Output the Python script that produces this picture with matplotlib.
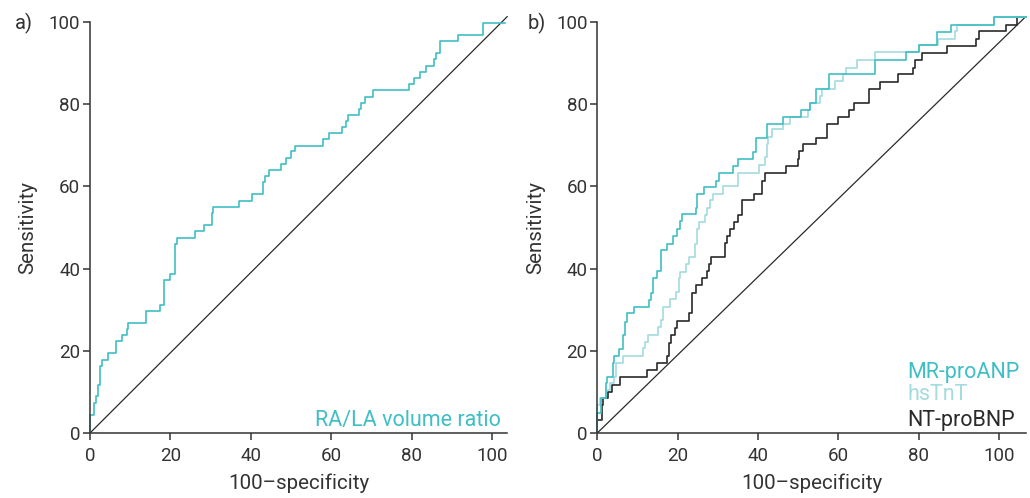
import matplotlib as mpl
mpl.use('Agg')
import matplotlib.pyplot as plt

# a) RA/LA volume ratio
ra_la_x = [0, 0, 1.0, 1.5, 2.1, 2.5, 3.0, 4.4, 6.5, 8.0, 9.2, 9.5, 14.0, 17.5, 18.3, 20.0, 21.2,
           21.7, 26.2, 28.3, 30.4, 30.7, 37.1, 40.2, 43.0, 43.5, 44.5, 47.5, 48.7, 50.0, 50.9,
           57.9, 59.5, 62.8, 63.7, 64.1, 66.9, 67.5, 68.5, 70.5, 79.3, 80.6, 82.2, 83.7, 85.7,
           86.0, 87.1, 91.5, 97.9, 103.2]
ra_la_y = [0, 4.5, 7.4, 9.0, 11.8, 16.3, 17.8, 19.4, 22.4, 23.8, 25.3, 26.8, 29.8, 31.1, 37.2,
           38.7, 46.1, 47.5, 49.1, 50.6, 53.6, 55.1, 56.5, 58.1, 61.0, 62.5, 64.0, 65.5, 67.0,
           68.5, 69.9, 71.5, 72.9, 74.5, 75.9, 77.4, 78.8, 80.4, 81.8, 83.4, 84.8, 86.3, 87.8,
           89.4, 90.9, 92.4, 95.3, 96.8, 99.8, 99.8]

# b) MR-proANP
anp_x = [0, 0, 0.91, 2.07, 2.49, 3.82, 4.23, 5.48, 6.47, 6.8, 7.3, 9.2, 12.9, 13.4, 13.9, 14.8,
         15.85, 17.4, 18.9, 19.9, 20.6, 21.0, 24.6, 24.9, 26.6, 29.5, 30.3, 33.7, 35.1, 38.8,
         39.5, 42.2, 46.1, 50.6, 52.9, 54.4, 57.6, 69.1, 76.8, 80.1, 84.5, 88.0, 98.8, 106.6]
anp_y = [0, 4.9, 8.5, 12.1, 13.7, 17.0, 18.8, 20.5, 23.8, 27.1, 29.1, 30.7, 32.3, 34.1, 37.6,
         39.4, 44.5, 46.1, 47.9, 49.6, 51.6, 53.2, 54.8, 58.2, 59.8, 61.4, 63.3, 64.9, 66.7,
         68.3, 71.8, 75.2, 77.0, 78.7, 80.4, 83.8, 87.3, 90.8, 92.6, 94.3, 97.5, 99.3, 101.1, 101.1]

# hsTnT
tnt_x = [0, 0, 0.66, 2.07, 3.15, 4.23, 4.65, 6.47, 11.45, 11.87, 12.7, 15.2, 15.8, 16.3, 18.1,
         19.6, 20.4, 20.7, 22.1, 22.7, 24.3, 24.9, 25.4, 26.8, 27.2, 28.05, 28.7, 31.4, 34.9,
         40.3, 41.7, 42.2, 42.6, 43.4, 46.1, 48.0, 52.4, 52.9, 55.4, 55.9, 59.2, 61.1, 61.9,
         64.6, 69.1, 80.1, 84.9, 89.0, 89.6, 98.8, 106.6]
tnt_y = [0, 6.9, 8.5, 10.5, 12.1, 13.7, 17.0, 18.8, 20.6, 22.2, 23.8, 25.7, 27.5, 30.7, 32.5,
         34.4, 37.6, 39.2, 41.1, 42.8, 46.1, 49.7, 51.3, 53.0, 54.8, 56.6, 58.2, 60.0, 63.3,
         65.1, 67.1, 70.3, 72.1, 73.9, 75.2, 77.0, 78.7, 80.4, 82.1, 83.8, 85.7, 87.3, 88.9,
         90.7, 92.6, 94.3, 95.8, 97.7, 99.3, 101.1, 101.1]

# NT-proBNP
bnp_x = [0, 0, 1.08, 1.49, 2.74, 3.57, 5.64, 12.3, 14.8, 17.3, 17.9, 18.3, 19.3, 19.9, 22.9,
         23.5, 24.6, 26.1, 27.4, 27.9, 28.2, 31.8, 32.2, 33.0, 33.9, 35.1, 35.9, 39.0, 40.9,
         41.7, 47.0, 50.0, 50.3, 51.3, 54.4, 57.1, 59.8, 62.7, 64.0, 67.5, 70.4, 74.9, 78.5,
         79.1, 80.7, 87.0, 94.2, 94.9, 101.7, 104.4, 106.6]
bnp_y = [0, 3.2, 6.9, 8.5, 10.1, 11.7, 13.7, 15.4, 17.0, 18.8, 21.8, 23.8, 25.5, 27.3, 29.1,
         34.1, 36.0, 37.6, 39.5, 41.2, 42.8, 46.2, 47.9, 49.7, 51.3, 53.0, 56.6, 58.2, 61.4,
         63.3, 65.0, 66.7, 68.6, 70.2, 71.9, 75.2, 77.0, 78.7, 80.4, 83.8, 85.5, 87.3, 88.9,
         90.7, 92.5, 94.2, 95.8, 97.7, 99.3, 101.1, 101.1]

ticks = [0, 20, 40, 60, 80, 100]

teal = '#3fbfc4'
light = '#a3dbde'
dark = '#2a2a2a'
grey = '#333333'

plt.rcParams['font.family'] = ['Roboto', 'DejaVu Sans']
plt.rcParams['font.size'] = 13.5

fig = plt.figure(figsize=(10.3, 4.98), dpi=100)
ax_a = fig.add_axes([0.0874, 0.1305, 0.405, 0.8253])
ax_b = fig.add_axes([0.5799, 0.1305, 0.4159, 0.8253])


def style(ax, xmax):
    ax.set_xlim(0, xmax)
    ax.set_ylim(0, 100)
    ax.set_xticks(ticks)
    ax.set_yticks(ticks)
    for s in ['top', 'right']:
        ax.spines[s].set_visible(False)
    for s in ['left', 'bottom']:
        ax.spines[s].set_color(grey)
        ax.spines[s].set_linewidth(1.1)
    ax.tick_params(direction='out', length=5, width=1.1, color=grey, labelcolor=grey)
    ax.tick_params(axis='x', pad=5)
    ax.tick_params(axis='y', pad=2)
    ax.set_xlabel('100\u2013specificity', color=grey, fontsize=14.8, labelpad=6)
    ax.set_ylabel('Sensitivity', color=grey, fontsize=14.8, labelpad=8)
    # 对角参考线
    ax.plot([0, xmax], [0, 101.3], color=dark, lw=0.9, clip_on=False)


style(ax_a, 103.8)
style(ax_b, 106.6)

ax_a.step(ra_la_x, ra_la_y, where='post', color=teal, lw=1.2, clip_on=False)
ax_a.text(0.985, 0.017, 'RA/LA volume ratio', color=teal, fontsize=15.5,
          ha='right', va='baseline', transform=ax_a.transAxes)

ax_b.step(bnp_x, bnp_y, where='post', color=dark, lw=1.2, clip_on=False)
ax_b.step(tnt_x, tnt_y, where='post', color=light, lw=1.2, clip_on=False)
ax_b.step(anp_x, anp_y, where='post', color=teal, lw=1.2, clip_on=False)

# 图例文字
for txt, c, yy in [('MR-proANP', teal, 0.134), ('hsTnT', light, 0.080), ('NT-proBNP', dark, 0.017)]:
    ax_b.text(0.723, yy, txt, color=c, fontsize=15.5, ha='left', va='baseline',
              transform=ax_b.transAxes)

fig.text(15 / 1030, 1 - 29 / 498, 'a)', color=grey, fontsize=14.5, va='baseline')
fig.text(528 / 1030, 1 - 29 / 498, 'b)', color=grey, fontsize=14.5, va='baseline')

plt.savefig('out.png', dpi=100)
plt.close('all')
